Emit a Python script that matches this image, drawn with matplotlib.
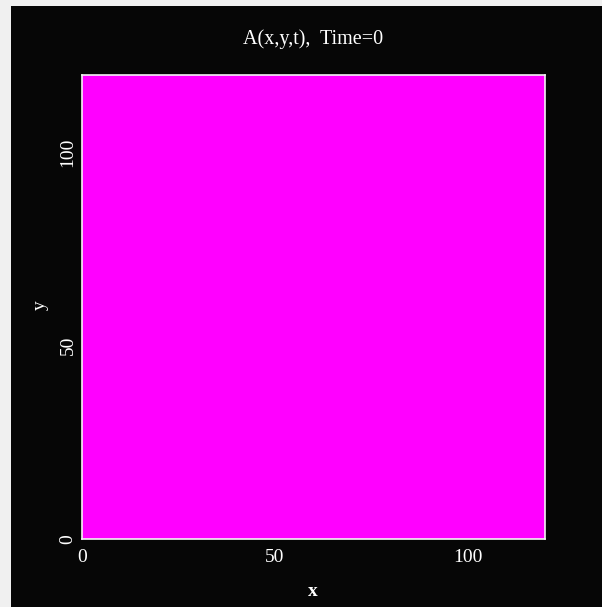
import numpy as np
import matplotlib
matplotlib.use("Agg")
import matplotlib.pyplot as plt
from matplotlib.colors import ListedColormap
from matplotlib.patches import Rectangle

# Data: field A(x,y,t) at Time=0 (uniform field)
x_edges = [0, 120]
y_edges = [0, 120]
A_values = [[1.0]]
x_ticks = [0, 50, 100]
y_ticks = [0, 50, 100]
title_text = "A(x,y,t),  Time=0"

W, H = 602, 607
fig = plt.figure(figsize=(W / 100, H / 100), dpi=100)
fig.patch.set_facecolor("#f0f0f0")
bg = Rectangle((11 / W, 0), 1 - 11 / W, 1 - 6 / H,
               transform=fig.transFigure, facecolor="#060606",
               edgecolor="none", zorder=-10)
fig.add_artist(bg)

ax = fig.add_axes([82 / W, 1 - 539 / H, (545 - 82) / W, (539 - 75) / H])
ax.set_zorder(1)
ax.set_facecolor("#060606")
ax.pcolormesh(x_edges, y_edges, np.array(A_values),
              cmap=ListedColormap(["#ff00ff"]), shading="flat")
ax.set_xlim(0, 120)
ax.set_ylim(0, 120)
for s in ax.spines.values():
    s.set_color("#f4f4f4")
    s.set_linewidth(1.2)

font = "Liberation Serif"
ax.set_xticks(x_ticks)
ax.set_yticks(y_ticks)
ax.tick_params(length=0, colors="white", labelsize=14, pad=7)
ax.tick_params(axis="y", pad=4)
for lab in ax.get_xticklabels():
    lab.set_fontfamily(font)
for lab in ax.get_yticklabels():
    lab.set_fontfamily(font)
    lab.set_rotation(90)
    lab.set_va("center")

ax.set_xlabel("x", color="white", fontsize=14, family=font, weight="bold")
ax.xaxis.set_label_coords(0.5 + (313 - 313.5) / 463, (539 - 591) / 464)
ax.xaxis.label.set_va("center")
ax.set_ylabel("y", color="white", fontsize=14, family=font)
ax.yaxis.set_label_coords((40 - 82) / 463, (539 - 305) / 464)
ax.yaxis.label.set_va("center")
fig.text(313 / W, 1 - 39 / H, title_text, color="white", fontsize=14.5,
         family=font, ha="center", va="center")

fig.savefig("out.png", dpi=100, facecolor=fig.get_facecolor())
